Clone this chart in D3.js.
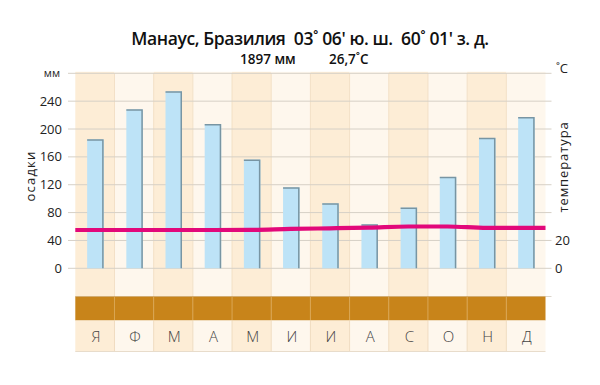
<!DOCTYPE html>
<html><head><meta charset="utf-8">
<script src="https://cdn.jsdelivr.net/npm/d3@7"></script>
<style>body{margin:0;background:#fff}svg{display:block}text{font-family:"Open Sans",sans-serif;white-space:pre}</style>
</head><body><svg id="c" width="600" height="385"></svg>
<script>
const months = ["Я","Ф","М","А","М","И","И","А","С","О","Н","Д"];
const precip = [185, 228, 254, 207, 156, 116, 93, 63, 87, 131, 187, 217];
const temp = [27.5, 27.5, 27.5, 27.5, 27.6, 28.3, 28.7, 29.2, 30.0, 30.0, 29.0, 29.0];
const leftTicks = [0, 40, 80, 120, 160, 200, 240];
const rightTicks = [0, 20];
const title = "Манаус, Бразилия  03˚ 06' ю. ш.  60˚ 01' з. д.";
const subtitleA = "1897 мм";
const subtitleB = "26,7˚C";

const svg = d3.select("#c");
const idx = d3.range(months.length);
const x = d3.scaleBand().domain(idx).range([75.3, 545.5]).padding(0);
const y = d3.scaleLinear().domain([0, 280]).range([268.3, 73.3]);
const yt = d3.scaleLinear().domain([0, 140]).range([268.3, 73.3]);
const bandTop = 296.5, bandBot = 320.5, rowBot = 351.5;
const dark = "#fdedd6", light = "#fef7ed";

// column backgrounds
svg.append("g").selectAll("rect").data(idx).join("rect")
  .attr("x", d => x(d)).attr("y", y(280) - 1.5)
  .attr("width", x.bandwidth()).attr("height", bandTop - y(280) + 1.5)
  .attr("fill", d => d % 2 === 0 ? dark : light);
svg.append("g").selectAll("line").data(idx.slice(1)).join("line")
  .attr("x1", d => x(d)).attr("x2", d => x(d))
  .attr("y1", y(280)).attr("y2", bandTop)
  .attr("stroke", "#f3e0c6").attr("stroke-width", 1);

// gridlines
const gridTicks = leftTicks.concat([280]);
svg.append("g").selectAll("line").data(gridTicks).join("line")
  .attr("x1", 68).attr("x2", 551.5)
  .attr("y1", d => y(d)).attr("y2", d => y(d))
  .attr("stroke", "#d6d0c6").attr("stroke-width", 1);
svg.append("line").attr("x1", 75).attr("x2", 551.5).attr("y1", bandTop).attr("y2", bandTop)
  .attr("stroke", "#ddd6cc").attr("stroke-width", 1);

// brown band
svg.append("g").selectAll("rect").data(idx).join("rect")
  .attr("x", d => x(d)).attr("y", bandTop)
  .attr("width", x.bandwidth()).attr("height", bandBot - bandTop)
  .attr("fill", "#c8841a");
svg.append("g").selectAll("line").data(idx.slice(1)).join("line")
  .attr("x1", d => x(d)).attr("x2", d => x(d))
  .attr("y1", bandTop).attr("y2", bandBot)
  .attr("stroke", "#d9a552").attr("stroke-width", 1);

// month label row
svg.append("g").selectAll("rect").data(idx).join("rect")
  .attr("x", d => x(d)).attr("y", bandBot)
  .attr("width", x.bandwidth()).attr("height", rowBot - bandBot)
  .attr("fill", d => d % 2 === 0 ? dark : light);
svg.append("g").selectAll("line").data(idx.slice(1)).join("line")
  .attr("x1", d => x(d)).attr("x2", d => x(d))
  .attr("y1", bandBot).attr("y2", rowBot)
  .attr("stroke", "#f0dcc0").attr("stroke-width", 1);
svg.append("line").attr("x1", 75.3).attr("x2", 545.5).attr("y1", rowBot).attr("y2", rowBot)
  .attr("stroke", "#e8dccb").attr("stroke-width", 1);
svg.append("g").selectAll("text").data(idx).join("text")
  .attr("x", d => x(d) + x.bandwidth() / 2 + 1).attr("y", 341.5)
  .attr("text-anchor", "middle").attr("font-size", 15).attr("fill", "#444")
  .attr("font-weight", 300)
  .text(d => months[d]);

// bars
const bw = 16.5;
const bars = svg.append("g");
bars.selectAll("rect").data(idx).join("rect")
  .attr("x", d => x(d) + x.bandwidth() / 2 - bw / 2 + 0.5)
  .attr("y", d => y(precip[d]))
  .attr("width", bw).attr("height", d => y(0) - y(precip[d]))
  .attr("fill", "#bde3f7");
bars.selectAll("path").data(idx).join("path")
  .attr("d", d => {
    const x0 = x(d) + x.bandwidth() / 2 - bw / 2 + 0.5, x1 = x0 + bw;
    return `M${x0},${y(precip[d]) + 0.5}H${x1 - 0.75}V${y(0)}`;
  })
  .attr("fill", "none").attr("stroke", "#7895a3").attr("stroke-width", 1.5);

// temperature line
const pts = [[x(0), yt(temp[0])]]
  .concat(idx.map(d => [x(d) + x.bandwidth() / 2, yt(temp[d])]))
  .concat([[x(11) + x.bandwidth(), yt(temp[11])]]);
svg.append("path").attr("d", d3.line().curve(d3.curveMonotoneX)(pts))
  .attr("fill", "none").attr("stroke", "#e2087a").attr("stroke-width", 4.2);

// left axis labels
svg.append("g").selectAll("text").data(leftTicks).join("text")
  .attr("x", 62).attr("y", d => y(d) + 4.5)
  .attr("text-anchor", "end").attr("font-size", 13).attr("fill", "#222")
  .text(d => d);
svg.append("text").attr("x", 60).attr("y", y(280) + 4).attr("text-anchor", "end")
  .attr("font-size", 11).attr("fill", "#222").text("мм");
svg.append("text").attr("transform", "translate(35,176) rotate(-90)")
  .attr("text-anchor", "middle").attr("font-size", 13).attr("letter-spacing", 1.2)
  .attr("fill", "#222").text("осадки");

// right axis labels
svg.append("g").selectAll("text").data(rightTicks).join("text")
  .attr("x", 555).attr("y", d => yt(d) + 4.5)
  .attr("text-anchor", "start").attr("font-size", 13).attr("fill", "#222")
  .text(d => d);
svg.append("text").attr("x", 556).attr("y", 73).attr("font-size", 13).attr("fill", "#222").text("˚C");
svg.append("text").attr("transform", "translate(568,167) rotate(-90)")
  .attr("text-anchor", "middle").attr("font-size", 13).attr("letter-spacing", 0.9)
  .attr("fill", "#222").text("температура");

// title
svg.append("text").attr("x", 310).attr("y", 44.5).attr("text-anchor", "middle")
  .attr("font-size", 17.5).attr("font-weight", 600).attr("fill", "#111")
  .attr("letter-spacing", -0.4).text(title);
svg.append("text").attr("x", 240).attr("y", 63.5)
  .attr("font-size", 13.5).attr("font-weight", 600).attr("fill", "#111").text(subtitleA);
svg.append("text").attr("x", 329).attr("y", 63.5)
  .attr("font-size", 13.5).attr("font-weight", 600).attr("fill", "#111").text(subtitleB);
</script></body></html>
